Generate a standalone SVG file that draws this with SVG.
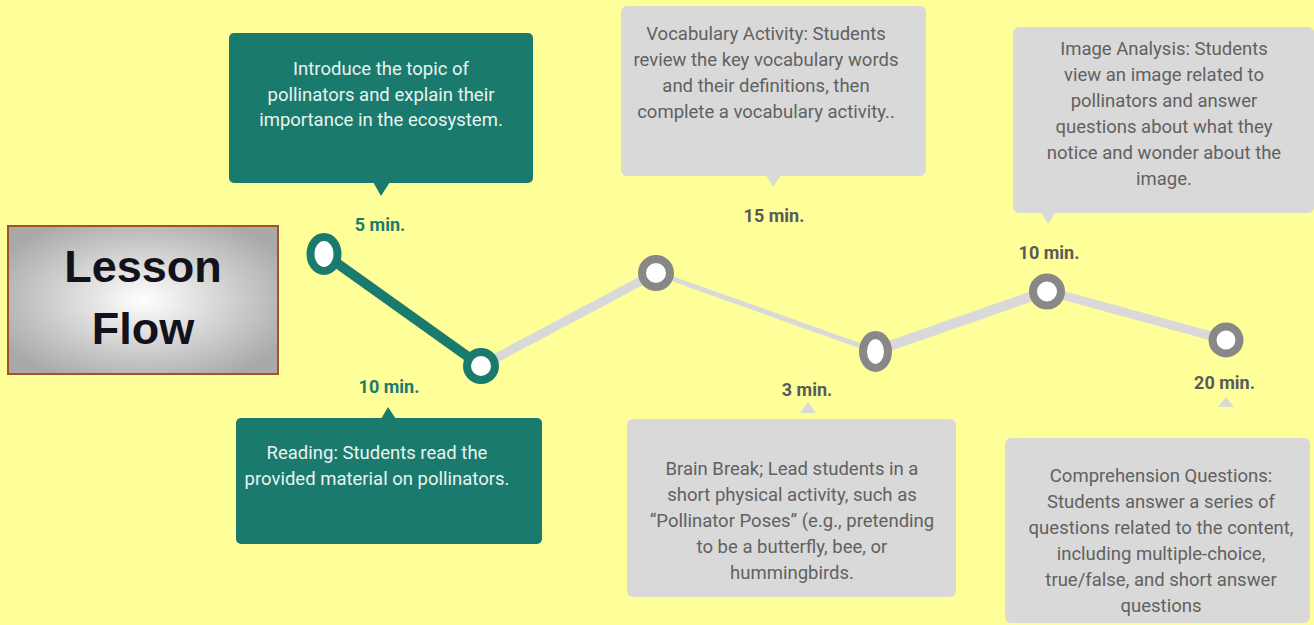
<svg xmlns="http://www.w3.org/2000/svg" width="1314" height="625" viewBox="0 0 1314 625">
<defs>
<radialGradient id="lg" cx="50%" cy="50%" r="60%">
<stop offset="0" stop-color="#ffffff"/>
<stop offset="1" stop-color="#a9a9a9"/>
</radialGradient>
</defs>
<style>
.body{font-family:Roboto,"Liberation Sans",sans-serif;font-size:18.5px;text-anchor:middle}
.tb{fill:#e9f4ef}
.gb{fill:#616161}
.teal{fill:#1b7a6e}
.gray{fill:#d9d9d9}
.lbl{font-family:Roboto,"Liberation Sans",sans-serif;font-size:18px;font-weight:bold;text-anchor:middle}
.lt{fill:#1b7a6e}
.lg{fill:#5a5a5a}
.dot{fill:#ffffff;stroke-width:8}
.dt{stroke:#1b7a6e}
.dg{stroke:#888888}
</style>
<rect x="0" y="0" width="1314" height="625" fill="#ffff99"/>

<g id="title">
<rect x="8" y="226" width="270" height="148" fill="url(#lg)" stroke="#a5522a" stroke-width="2"/>
<text x="143" y="282" font-family="'Liberation Sans',Arial,sans-serif" font-size="45" font-weight="bold" fill="#11121a" text-anchor="middle">Lesson</text>
<text x="143" y="344" font-family="'Liberation Sans',Arial,sans-serif" font-size="45" font-weight="bold" fill="#11121a" text-anchor="middle">Flow</text>
</g>

<g id="connectors" stroke-linecap="butt">
<line x1="324" y1="254" x2="481" y2="366" stroke="#1b7a6e" stroke-width="10"/>
<line x1="481" y1="366" x2="656" y2="273" stroke="#d9d9d9" stroke-width="9"/>
<line x1="656" y1="273" x2="875" y2="351" stroke="#d9d9d9" stroke-width="5"/>
<line x1="875" y1="351" x2="1047" y2="291" stroke="#d9d9d9" stroke-width="10"/>
<line x1="1047" y1="291" x2="1226" y2="340" stroke="#d9d9d9" stroke-width="9"/>
</g>

<g id="step1">
<rect class="teal" x="229" y="33" width="304" height="150" rx="5"/>
<polygon class="teal" points="373,182 390,182 381,196"/>
<text class="body tb" x="381" y="75">Introduce the topic of</text>
<text class="body tb" x="381" y="100.5">pollinators and explain their</text>
<text class="body tb" x="381" y="126">importance in the ecosystem.</text>
<text class="lbl lt" x="380" y="231">5 min.</text>
<ellipse class="dot dt" cx="324" cy="254" rx="13.5" ry="17"/>
</g>

<g id="step2">
<rect class="teal" x="236" y="418" width="306" height="126" rx="5"/>
<polygon class="teal" points="381,419 396,419 388,407"/>
<text class="body tb" x="377" y="459">Reading: Students read the</text>
<text class="body tb" x="377" y="485">provided material on pollinators.</text>
<text class="lbl lt" x="389" y="393">10 min.</text>
<circle class="dot dt" cx="481" cy="366" r="14"/>
</g>

<g id="step3">
<rect class="gray" x="621" y="6" width="305" height="170" rx="6"/>
<polygon class="gray" points="766,175 781,175 773,187"/>
<text class="body gb" x="766" y="40">Vocabulary Activity: Students</text>
<text class="body gb" x="766" y="66">review the key vocabulary words</text>
<text class="body gb" x="766" y="92">and their definitions, then</text>
<text class="body gb" x="766" y="118">complete a vocabulary activity..</text>
<text class="lbl lg" x="774" y="222">15 min.</text>
<circle class="dot dg" cx="656" cy="273" r="14"/>
</g>

<g id="step4">
<polygon class="gray" points="800,413 816,413 808,402"/>
<rect class="gray" x="627" y="419" width="329" height="178" rx="6"/>
<text class="body gb" x="792" y="475">Brain Break; Lead students in a</text>
<text class="body gb" x="792" y="501">short physical activity, such as</text>
<text class="body gb" x="792" y="527">“Pollinator Poses” (e.g., pretending</text>
<text class="body gb" x="792" y="553">to be a butterfly, bee, or</text>
<text class="body gb" x="792" y="579">hummingbirds.</text>
<text class="lbl lg" x="807" y="396">3 min.</text>
<ellipse class="dot dg" cx="875.5" cy="351.5" rx="12.5" ry="16.5"/>
</g>

<g id="step5">
<rect class="gray" x="1013" y="27" width="301" height="186" rx="6"/>
<polygon class="gray" points="1041,212 1056,212 1048,224"/>
<text class="body gb" x="1164" y="55">Image Analysis: Students</text>
<text class="body gb" x="1164" y="81">view an image related to</text>
<text class="body gb" x="1164" y="107">pollinators and answer</text>
<text class="body gb" x="1164" y="133">questions about what they</text>
<text class="body gb" x="1164" y="159">notice and wonder about the</text>
<text class="body gb" x="1164" y="185">image.</text>
<text class="lbl lg" x="1049" y="259">10 min.</text>
<circle class="dot dg" cx="1047" cy="291.5" r="14"/>
</g>

<g id="step6">
<polygon class="gray" points="1218,407 1234,407 1226,397"/>
<rect class="gray" x="1005" y="438" width="305" height="185" rx="6"/>
<text class="body gb" x="1161" y="482">Comprehension Questions:</text>
<text class="body gb" x="1161" y="508">Students answer a series of</text>
<text class="body gb" x="1161" y="534">questions related to the content,</text>
<text class="body gb" x="1161" y="560">including multiple-choice,</text>
<text class="body gb" x="1161" y="586">true/false, and short answer</text>
<text class="body gb" x="1161" y="612">questions</text>
<text class="lbl lg" x="1224.5" y="389">20 min.</text>
<circle class="dot dg" cx="1226" cy="340" r="13.5"/>
</g>
</svg>
